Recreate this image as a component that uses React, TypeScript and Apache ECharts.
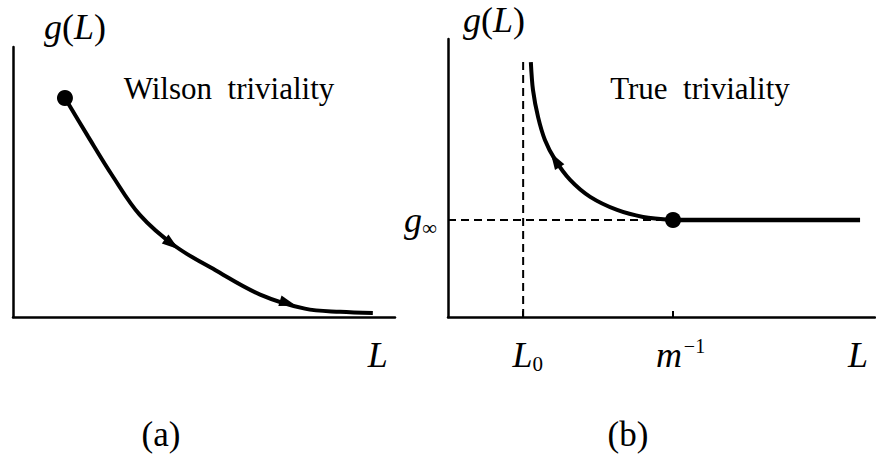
import React, { useEffect, useRef } from "react";
import * as echarts from "echarts";

// Panel (a): Wilson triviality curve
const curveA_L = [1.36, 1.96, 2.59, 3.32, 4.24, 5.29, 6.47, 7.64, 8.56, 9.42];
const curveA_g = [8.11, 6.7, 5.26, 3.78, 2.63, 1.74, 0.83, 0.31, 0.19, 0.15];
const startA = [1.36, 8.11];
const arrowsA_L = [4.16, 7.2];
const arrowsA_g = [2.7, 0.51];
const arrowsA_rot = [-127, -107];

// Panel (b): True triviality curve
const curveB_L = [1.94, 1.99, 2.11, 2.27, 2.51, 2.86, 3.33, 3.96, 4.57, 5.27];
const curveB_g = [9.17, 8.17, 7.19, 6.37, 5.65, 4.93, 4.32, 3.85, 3.6, 3.49];
const L0 = 1.76;
const mInv = 5.27;
const gInf = 3.49;
const dashTop = 9.17;
const flatEnd = 9.65;
const arrowsB_L = [2.51];
const arrowsB_g = [5.65];
const arrowsB_rot = [32];

// tick labels
const labelA_L = [9.55];
const labelsB_L = [L0, mInv, 9.6];
const ticksB_L = [L0, mInv];
const labelsB_g = [gInf];

const FONT = "Liberation Serif";
const BLACK = "#000";

const richMath = {
  i: { fontFamily: FONT, fontStyle: "italic", fontSize: 36, color: BLACK, lineHeight: 38 },
  iL: { fontFamily: FONT, fontStyle: "italic", fontSize: 36, color: BLACK, lineHeight: 38, padding: [0, 0, 0, 9] },
  iM: { fontFamily: FONT, fontStyle: "italic", fontSize: 36, color: BLACK, lineHeight: 38, padding: [0, 0, 0, 15] },
  n: { fontFamily: FONT, fontSize: 36, color: BLACK, lineHeight: 38 },
  sup: { fontFamily: FONT, fontSize: 20, color: BLACK, lineHeight: 38, verticalAlign: "top", padding: [0, 0, 16, 2] },
  sub: { fontFamily: FONT, fontSize: 21, color: BLACK, lineHeight: 38, verticalAlign: "bottom", padding: [12, 0, 0, 0] },
};

export default function App() {
  const ref = useRef<HTMLDivElement>(null);
  useEffect(() => {
    if (!ref.current) return;
    const chart = echarts.init(ref.current, undefined, { renderer: "svg" });
    const axisLine = { show: true, onZero: false, lineStyle: { color: BLACK, width: 2.5 } };
    const line = (xi: number, yi: number, xs: number[], ys: number[], extra: any) => ({
      type: "line",
      xAxisIndex: xi,
      yAxisIndex: yi,
      data: xs.map((x, k) => [x, ys[k]]),
      showSymbol: false,
      silent: true,
      ...extra,
    });
    const bLabel = (v: number) => {
      if (v === L0) return "{iL|L}{sub|0}";
      if (v === mInv) return "{iM|m}{sup|−1}";
      return "{i|L}";
    };
    const dot = { color: BLACK, opacity: 1 };
    chart.setOption({
      animation: false,
      backgroundColor: "#fff",
      grid: [
        { left: 13, top: 47, width: 382, height: 270 },
        { left: 448, top: 39, width: 427, height: 278 },
      ],
      xAxis: [
        {
          gridIndex: 0, type: "value", min: 0, max: 10,
          axisLine, splitLine: { show: false }, axisTick: { show: false },
          axisLabel: { show: true, customValues: labelA_L, margin: 19, formatter: () => "{i|L}", rich: richMath },
        },
        {
          gridIndex: 1, type: "value", min: 0, max: 10,
          axisLine, splitLine: { show: false },
          axisTick: { show: true, inside: true, length: 6, customValues: ticksB_L, lineStyle: { color: BLACK, width: 2 } },
          axisLabel: { show: true, customValues: labelsB_L, margin: 19, formatter: (v: number) => bLabel(v), rich: richMath },
        },
      ],
      yAxis: [
        {
          gridIndex: 0, type: "value", min: 0, max: 10,
          axisLine, splitLine: { show: false }, axisTick: { show: false }, axisLabel: { show: false },
        },
        {
          gridIndex: 1, type: "value", min: 0, max: 10,
          axisLine, splitLine: { show: false }, axisTick: { show: false },
          axisLabel: { show: true, customValues: labelsB_g, margin: 11, formatter: () => "{i|g}{sub|∞}", rich: richMath },
        },
      ],
      series: [
        line(0, 0, curveA_L, curveA_g, { smooth: 0.35, lineStyle: { color: BLACK, width: 4 } }),
        {
          type: "scatter", xAxisIndex: 0, yAxisIndex: 0, silent: true,
          data: [startA], symbol: "circle", symbolSize: 16, itemStyle: dot,
        },
        {
          type: "scatter", xAxisIndex: 0, yAxisIndex: 0, silent: true,
          symbol: "triangle", symbolSize: [11, 17], itemStyle: dot,
          data: arrowsA_L.map((x, k) => ({ value: [x, arrowsA_g[k]], symbolRotate: arrowsA_rot[k] })),
        },
        line(1, 1, [L0, L0], [0, dashTop], { lineStyle: { color: BLACK, width: 2, type: [8, 5] } }),
        line(1, 1, [0, mInv], [gInf, gInf], { lineStyle: { color: BLACK, width: 2, type: [8, 5] } }),
        line(1, 1, curveB_L, curveB_g, { smooth: 0.3, lineStyle: { color: BLACK, width: 4 } }),
        line(1, 1, [mInv, flatEnd], [gInf, gInf], { lineStyle: { color: BLACK, width: 4.5 } }),
        {
          type: "scatter", xAxisIndex: 1, yAxisIndex: 1, silent: true,
          data: [[mInv, gInf]], symbol: "circle", symbolSize: 16, itemStyle: dot,
        },
        {
          type: "scatter", xAxisIndex: 1, yAxisIndex: 1, silent: true,
          symbol: "triangle", symbolSize: [11, 17], itemStyle: dot,
          data: arrowsB_L.map((x, k) => ({ value: [x, arrowsB_g[k]], symbolRotate: arrowsB_rot[k] })),
        },
      ],
      graphic: [
        { type: "text", x: 75, y: 27, style: { text: "{i|g}{n|(}{i|L}{n|)}", rich: richMath, align: "center", verticalAlign: "middle" } },
        { type: "text", x: 494, y: 20, style: { text: "{i|g}{n|(}{i|L}{n|)}", rich: richMath, align: "center", verticalAlign: "middle" } },
        { type: "text", x: 229, y: 88, style: { text: "Wilson  triviality", fontFamily: FONT, fontSize: 31, fill: BLACK, align: "center", verticalAlign: "middle" } },
        { type: "text", x: 700, y: 88, style: { text: "True  triviality", fontFamily: FONT, fontSize: 31, fill: BLACK, align: "center", verticalAlign: "middle" } },
        { type: "text", x: 161, y: 434, style: { text: "(a)", fontFamily: FONT, fontSize: 35, fill: BLACK, align: "center", verticalAlign: "middle" } },
        { type: "text", x: 628, y: 434, style: { text: "(b)", fontFamily: FONT, fontSize: 35, fill: BLACK, align: "center", verticalAlign: "middle" } },
      ],
    });
    return () => chart.dispose();
  }, []);
  return <div ref={ref} style={{ position: "fixed", left: 0, top: 0, width: 876, height: 454 }} />;
}
